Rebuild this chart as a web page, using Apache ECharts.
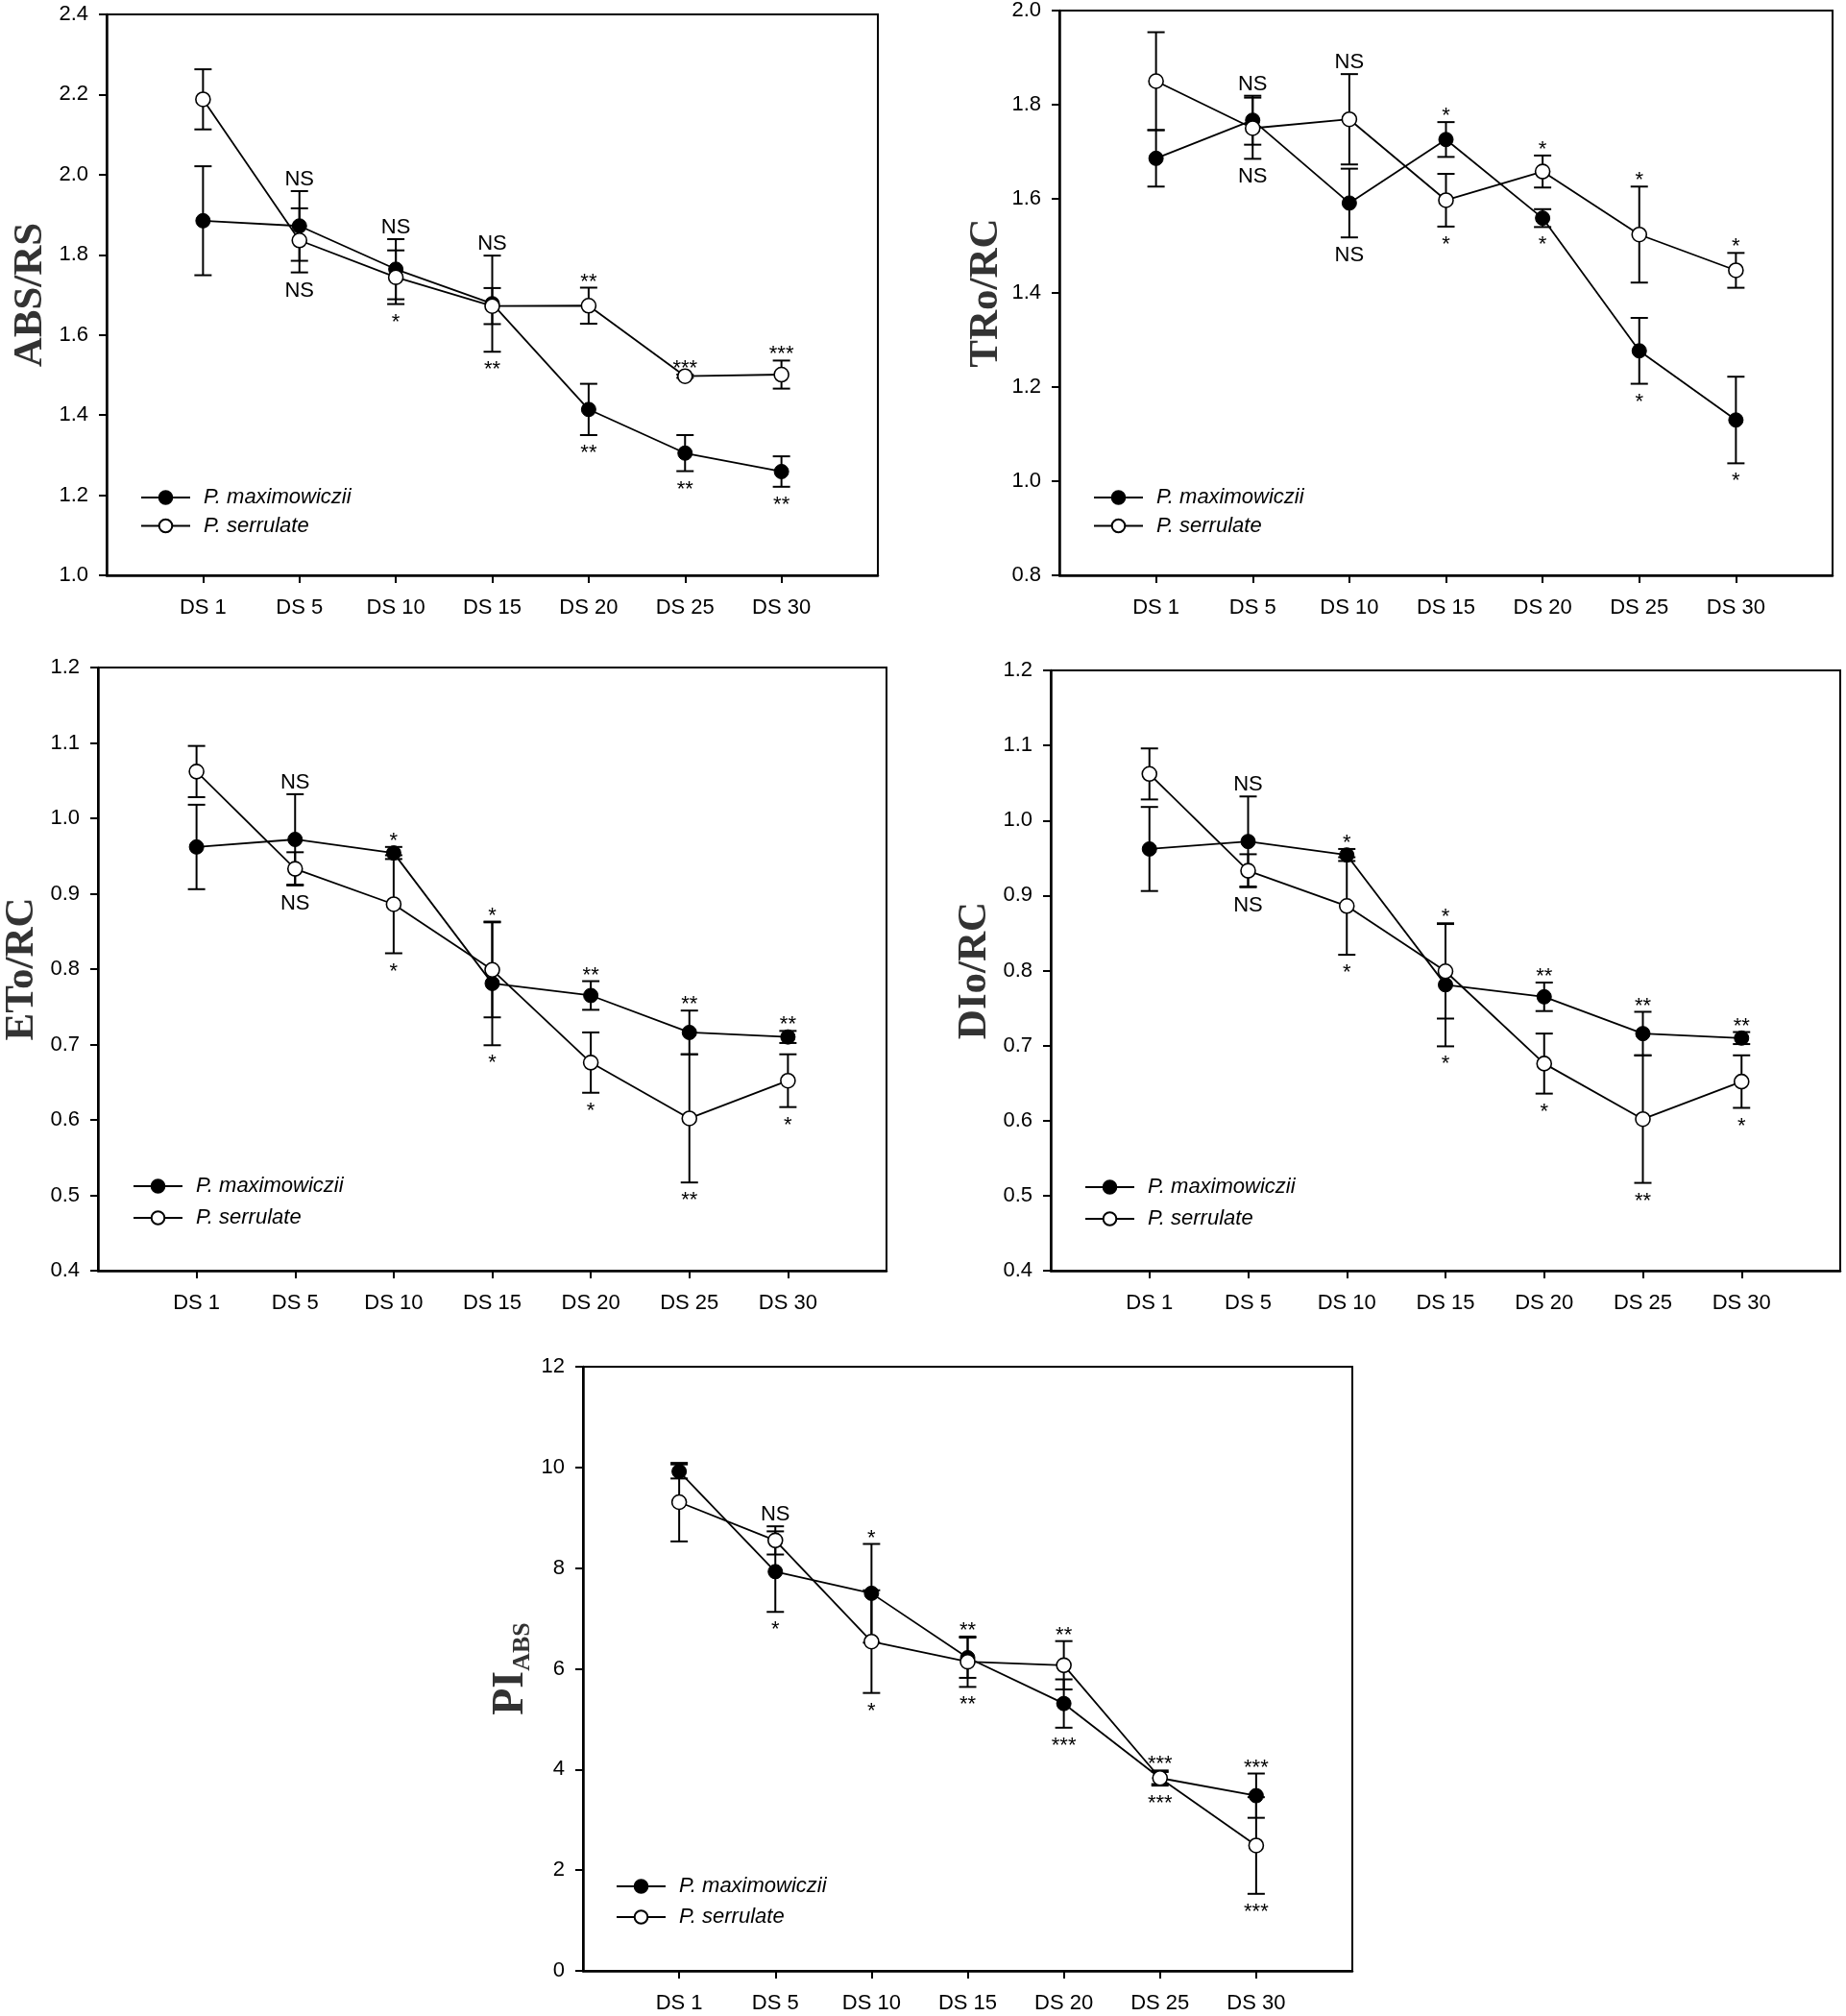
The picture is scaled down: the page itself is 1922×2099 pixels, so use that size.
<!DOCTYPE html>
<html><head><meta charset="utf-8">
<script src="https://cdn.jsdelivr.net/npm/echarts@6/dist/echarts.min.js"></script>
<style>html,body{margin:0;padding:0;background:#fff}#c{width:1922px;height:2099px}</style>
</head><body><div id="c"></div>
<script>
// ---------- data ----------
const categories = ['DS 1', 'DS 5', 'DS 10', 'DS 15', 'DS 20', 'DS 25', 'DS 30'];
const seriesNames = ['P. maximowiczii', 'P. serrulate'];

// ABS/RS
const absMax    = [1.885, 1.872, 1.764, 1.678, 1.414, 1.305, 1.259];
const absMaxErr = [0.136, 0.087, 0.075, 0.120, 0.064, 0.045, 0.038];
const absSer    = [2.188, 1.836, 1.744, 1.672, 1.673, 1.497, 1.501];
const absSerErr = [0.075, 0.080, 0.067, 0.045, 0.045, 0.004, 0.035];
const absAbove  = ['', 'NS', 'NS', 'NS', '**', '***', '***'];
const absBelow  = ['', 'NS', '*', '**', '**', '**', '**'];
const absTicks  = ['1.0', '1.2', '1.4', '1.6', '1.8', '2.0', '2.2', '2.4'];

// TRo/RC
const troMax    = [1.686, 1.767, 1.591, 1.726, 1.559, 1.277, 1.130];
const troMaxErr = [0.060, 0.052, 0.073, 0.037, 0.019, 0.070, 0.092];
const troSer    = [1.850, 1.750, 1.769, 1.597, 1.658, 1.524, 1.448];
const troSerErr = [0.104, 0.065, 0.096, 0.056, 0.034, 0.102, 0.037];
const troAbove  = ['', 'NS', 'NS', '*', '*', '*', '*'];
const troBelow  = ['', 'NS', 'NS', '*', '*', '*', '*'];
const troTicks  = ['0.8', '1.0', '1.2', '1.4', '1.6', '1.8', '2.0'];

// ETo/RC
const etoMax    = [0.962, 0.972, 0.954, 0.781, 0.765, 0.716, 0.710];
const etoMaxErr = [0.056, 0.060, 0.008, 0.082, 0.019, 0.029, 0.008];
const etoSer    = [1.062, 0.933, 0.886, 0.799, 0.676, 0.602, 0.652];
const etoSerErr = [0.034, 0.022, 0.065, 0.063, 0.040, 0.085, 0.035];
const etoAbove  = ['', 'NS', '*', '*', '**', '**', '**'];
const etoBelow  = ['', 'NS', '*', '*', '*', '**', '*'];
const etoTicks  = ['0.4', '0.5', '0.6', '0.7', '0.8', '0.9', '1.0', '1.1', '1.2'];

// DIo/RC
const dioMax    = [0.962, 0.972, 0.954, 0.781, 0.765, 0.716, 0.710];
const dioMaxErr = [0.056, 0.060, 0.008, 0.082, 0.019, 0.029, 0.008];
const dioSer    = [1.062, 0.933, 0.886, 0.799, 0.676, 0.602, 0.652];
const dioSerErr = [0.034, 0.022, 0.065, 0.063, 0.040, 0.085, 0.035];
const dioAbove  = ['', 'NS', '*', '*', '**', '**', '**'];
const dioBelow  = ['', 'NS', '*', '*', '*', '**', '*'];
const dioTicks  = ['0.4', '0.5', '0.6', '0.7', '0.8', '0.9', '1.0', '1.1', '1.2'];

// PI_ABS
const piMax     = [9.92, 7.93, 7.50, 6.22, 5.31, 3.83, 3.48];
const piMaxErr  = [0.14, 0.80, 0.98, 0.40, 0.48, 0.12, 0.44];
const piSer     = [9.31, 8.55, 6.54, 6.14, 6.07, 3.83, 2.49];
const piSerErr  = [0.78, 0.28, 1.02, 0.50, 0.48, 0.15, 0.96];
const piAbove   = ['', 'NS', '*', '**', '**', '***', '***'];
const piBelow   = ['', '*', '*', '**', '***', '***', '***'];
const piTicks   = ['0', '2', '4', '6', '8', '10', '12'];

// ---------- layout / options ----------
const panels = [
  {title: 'ABS/RS', a: absMax, ae: absMaxErr, b: absSer, be: absSerErr, up: absAbove, dn: absBelow, ticks: absTicks,
   box: {left: 111, top: 15, width: 803, height: 584}, leg: {left: 146, top: 507, itemGap: 7.5}, nameGap: 58},
  {title: 'TRo/RC', a: troMax, ae: troMaxErr, b: troSer, be: troSerErr, up: troAbove, dn: troBelow, ticks: troTicks,
   box: {left: 1103, top: 11, width: 805, height: 588}, leg: {left: 1138, top: 507, itemGap: 7.5}, nameGap: 55},
  {title: 'ETo/RC', a: etoMax, ae: etoMaxErr, b: etoSer, be: etoSerErr, up: etoAbove, dn: etoBelow, ticks: etoTicks,
   box: {left: 102, top: 695, width: 821, height: 628}, leg: {left: 138, top: 1224, itemGap: 11}, nameGap: 58},
  {title: 'DIo/RC', a: dioMax, ae: dioMaxErr, b: dioSer, be: dioSerErr, up: dioAbove, dn: dioBelow, ticks: dioTicks,
   box: {left: 1094, top: 698, width: 822, height: 625}, leg: {left: 1129, top: 1225, itemGap: 11}, nameGap: 58},
  {title: '{p|PI}{s|ABS}', a: piMax, ae: piMaxErr, b: piSer, be: piSerErr, up: piAbove, dn: piBelow, ticks: piTicks,
   box: {left: 607, top: 1423, width: 801, height: 629}, leg: {left: 641, top: 1953, itemGap: 10}, nameGap: 50}
];

const FONT = '"Liberation Sans", Arial, sans-serif';
const SERIF = '"Liberation Serif", "Times New Roman", serif';
const xSlots = [''].concat(categories, ['']);

function errRender(params, api) {
  const c = api.value(0), m = api.value(1), e = api.value(2);
  const t = api.coord([c, m + e]);
  const b = api.coord([c, m - e]);
  const hw = 9;
  const st = {stroke: '#000', lineWidth: 2};
  return {type: 'group', children: [
    {type: 'line', shape: {x1: t[0], y1: t[1], x2: b[0], y2: b[1]}, style: st},
    {type: 'line', shape: {x1: t[0] - hw, y1: t[1], x2: t[0] + hw, y2: t[1]}, style: st},
    {type: 'line', shape: {x1: b[0] - hw, y1: b[1], x2: b[0] + hw, y2: b[1]}, style: st}
  ]};
}

function annotRender(up, dn) {
  return function (params, api) {
    const i = params.dataIndex;
    const c = api.value(0);
    const t = api.coord([c, api.value(1)]);
    const b = api.coord([c, api.value(2)]);
    const kids = [];
    if (up[i]) {
      const gap = up[i] === 'NS' ? 1 : -5;
      kids.push({type: 'text', style: {text: up[i], x: t[0], y: t[1] - gap, align: 'center', verticalAlign: 'bottom',
        font: '22px ' + FONT, fill: '#000'}});
    }
    if (dn[i]) {
      kids.push({type: 'text', style: {text: dn[i], x: b[0], y: b[1] + 8, align: 'center', verticalAlign: 'top',
        font: '22px ' + FONT, fill: '#000'}});
    }
    return {type: 'group', children: kids};
  };
}

const option = {
  animation: false,
  backgroundColor: '#fff',
  grid: [], xAxis: [], yAxis: [], legend: [], series: []
};

panels.forEach((p, k) => {
  option.grid.push(Object.assign({show: true, borderColor: '#000', borderWidth: 2, containLabel: false, outerBoundsMode: 'none'}, p.box));
  option.xAxis.push({
    type: 'category', gridIndex: k, data: xSlots, boundaryGap: false,
    axisLine: {show: true, onZero: false, lineStyle: {color: '#000', width: 2.5}},
    axisTick: {show: true, inside: false, length: 8, interval: (i, v) => v !== '', lineStyle: {color: '#000', width: 2}},
    axisLabel: {interval: 0, margin: 23, color: '#000', fontSize: 22, fontFamily: FONT},
    splitLine: {show: false}
  });
  const mn = parseFloat(p.ticks[0]), mx = parseFloat(p.ticks[p.ticks.length - 1]);
  const step = parseFloat(p.ticks[1]) - mn;
  option.yAxis.push({
    type: 'value', gridIndex: k, min: mn, max: mx, interval: step,
    name: p.title, nameLocation: 'middle', nameRotate: 90, nameGap: p.nameGap,
    nameTextStyle: {color: '#333', fontFamily: SERIF, fontWeight: 'bold', fontSize: 43,
      rich: {
        p: {fontSize: 46, lineHeight: 50, fontFamily: SERIF, fontWeight: 'bold', color: '#333'},
        s: {fontSize: 26, lineHeight: 28, fontFamily: SERIF, fontWeight: 'bold', color: '#333', verticalAlign: 'bottom'}
      }},
    axisLine: {show: true, lineStyle: {color: '#000', width: 2.5}},
    axisTick: {show: true, inside: false, length: 8, lineStyle: {color: '#000', width: 2}},
    axisLabel: {margin: 19, color: '#000', fontSize: 22, fontFamily: FONT,
      formatter: v => p.ticks[Math.round((v - mn) / step)]},
    splitLine: {show: false}
  });
  option.legend.push({
    data: seriesNames, orient: 'vertical', left: p.leg.left, top: p.leg.top, itemGap: p.leg.itemGap,
    itemWidth: 51, itemHeight: 17, padding: 0, selectedMode: false,
    textStyle: {fontSize: 22, lineHeight: 22, fontStyle: 'italic', fontFamily: FONT, color: '#000', padding: [0, 0, 0, 9]}
  });
  const mk = (vals) => categories.map((c, i) => [c, vals[i]]);
  const mkErr = (vals, errs) => categories.map((c, i) => [c, vals[i], errs[i]]);
  option.series.push(
    {type: 'custom', xAxisIndex: k, yAxisIndex: k, renderItem: errRender, data: mkErr(p.a, p.ae), encode: {x: 0, y: 1}, silent: true, z: 2},
    {type: 'custom', xAxisIndex: k, yAxisIndex: k, renderItem: errRender, data: mkErr(p.b, p.be), encode: {x: 0, y: 1}, silent: true, z: 2},
    {type: 'line', name: seriesNames[0], xAxisIndex: k, yAxisIndex: k, data: mk(p.a), symbol: 'circle', symbolSize: 15,
     showAllSymbol: true, silent: true, z: 3,
     lineStyle: {color: '#000', width: 1.8}, itemStyle: {color: '#000', borderColor: '#000', borderWidth: 1}},
    {type: 'line', name: seriesNames[1], xAxisIndex: k, yAxisIndex: k, data: mk(p.b), symbol: 'circle', symbolSize: 15,
     showAllSymbol: true, silent: true, z: 4,
     lineStyle: {color: '#000', width: 1.8}, itemStyle: {color: '#fff', borderColor: '#000', borderWidth: 1.6}},
    {type: 'custom', xAxisIndex: k, yAxisIndex: k, renderItem: annotRender(p.up, p.dn), silent: true, z: 5,
     data: categories.map((c, i) => [c, Math.max(p.a[i] + p.ae[i], p.b[i] + p.be[i]), Math.min(p.a[i] - p.ae[i], p.b[i] - p.be[i])]),
     encode: {x: 0, y: 1}}
  );
});

const chart = echarts.init(document.getElementById('c'), null, {renderer: 'canvas'});
chart.setOption(option);
</script>
</body></html>
